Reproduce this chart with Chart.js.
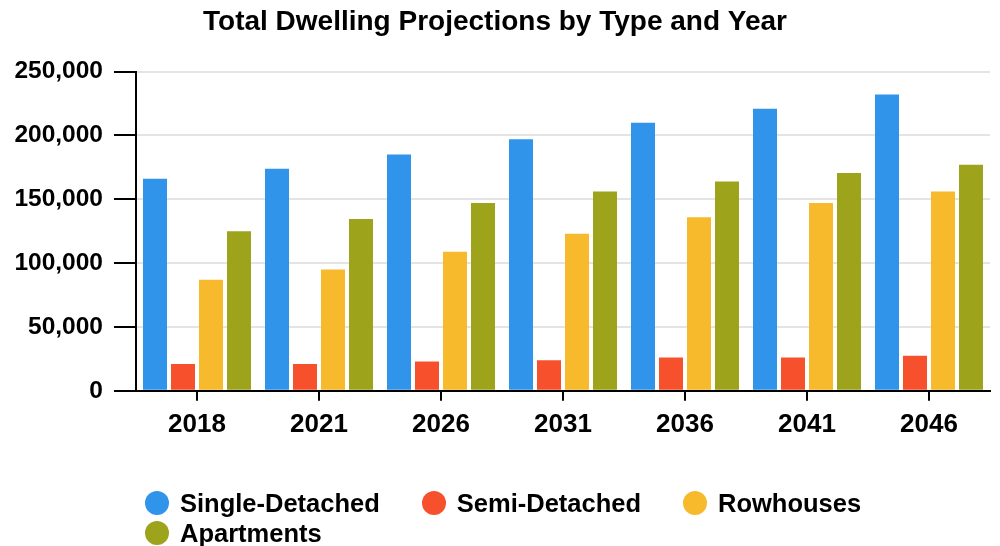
<!DOCTYPE html>
<html lang="en">
<head>
<meta charset="utf-8">
<title>Total Dwelling Projections by Type and Year</title>
<script src="https://cdn.jsdelivr.net/npm/chart.js@4.4.1/dist/chart.umd.min.js"></script>
<style>
  html, body { margin: 0; padding: 0; background: #fff; }
  .wrap { position: relative; width: 1000px; height: 546px; }
  #chart-dwellings { display: block; }
  /* legend is built from the chart's datasets, laid out in HTML */
  #legend {
    position: absolute; left: 145px; top: 488px; width: 800px;
    display: flex; flex-wrap: wrap; column-gap: 42px;
    font: bold 25.5px 'Liberation Sans', Arial, sans-serif; line-height: 30px; color: #000;
  }
  #legend .item { display: flex; align-items: center; white-space: nowrap; }
  #legend .dot { width: 24px; height: 24px; border-radius: 50%; margin-right: 11px; }
</style>
</head>
<body>
<div class="wrap">
  <canvas id="chart-dwellings" width="1000" height="546"></canvas>
  <div id="legend"></div>
</div>
<script>
// Projected dwellings by type, per census year
const years = ['2018', '2021', '2026', '2031', '2036', '2041', '2046'];
const singleDetached = [166000, 174000, 185000, 197000, 210000, 221000, 232000];
const semiDetached = [21000, 21000, 23000, 24000, 26000, 26000, 27500];
const rowhouses = [87000, 95000, 109000, 123000, 136000, 147000, 156000];
const apartments = [125000, 134500, 147000, 156000, 164000, 170500, 177000];
const yTicks = [0, 50000, 100000, 150000, 200000, 250000];

const palette = {
  single: '#3094EB',
  semi: '#F6502D',
  row: '#F6BA2C',
  apt: '#9EA31C',
  grid: '#E4E4E4',
  axis: '#000000'
};

const font = "'Liberation Sans', Arial, sans-serif";

function initChart() {
  if (typeof Chart === 'undefined') {
    console.warn('Chart.js not loaded');
    return;
  }
  Chart.defaults.color = '#000';
  Chart.defaults.font.family = font;

  const bar = { categoryPercentage: 0.918, barPercentage: 0.857 };

  const chart = new Chart(document.getElementById('chart-dwellings'), {
    type: 'bar',
    data: {
      labels: years,
      datasets: [
        { label: 'Single-Detached', data: singleDetached, backgroundColor: palette.single, ...bar },
        { label: 'Semi-Detached', data: semiDetached, backgroundColor: palette.semi, ...bar },
        { label: 'Rowhouses', data: rowhouses, backgroundColor: palette.row, ...bar },
        { label: 'Apartments', data: apartments, backgroundColor: palette.apt, ...bar }
      ]
    },
    options: {
      responsive: false,
      animation: false,
      layout: { padding: { left: 0, right: 10, top: 0, bottom: 98 } },
      plugins: {
        legend: { display: false },
        tooltip: { enabled: false },
        title: {
          display: true,
          text: 'Total Dwelling Projections by Type and Year',
          color: '#000',
          font: { size: 28, weight: 'bold' },
          padding: { top: 5, bottom: 33 }
        }
      },
      scales: {
        x: {
          grid: { offset: false, drawOnChartArea: false, tickColor: palette.axis, tickLength: 10, lineWidth: 2 },
          border: { color: palette.axis, width: 2 },
          ticks: { font: { size: 26, weight: 'bold' }, padding: 8 }
        },
        y: {
          min: 0,
          max: 250000,
          afterFit: (scale) => { scale.width = 136; },
          afterBuildTicks: (scale) => { scale.ticks = yTicks.map(v => ({ value: v })); },
          grid: { color: palette.grid, lineWidth: 2, tickColor: palette.axis, tickLength: 22 },
          border: { color: palette.axis, width: 2 },
          ticks: {
            font: { size: 24.5, weight: 'bold' },
            padding: 11,
            callback: (v) => Number(v).toLocaleString('en-US')
          }
        }
      }
    }
  });

  buildLegend(chart);
}

function buildLegend(chart) {
  const box = document.getElementById('legend');
  chart.data.datasets.forEach(ds => {
    const item = document.createElement('span');
    item.className = 'item';
    const dot = document.createElement('span');
    dot.className = 'dot';
    dot.style.background = ds.backgroundColor;
    item.appendChild(dot);
    item.appendChild(document.createTextNode(ds.label));
    box.appendChild(item);
  });
}

document.addEventListener('DOMContentLoaded', () => {
  try { initChart(); } catch (err) { console.error('Chart init failed:', err); }
});
</script>
</body>
</html>
